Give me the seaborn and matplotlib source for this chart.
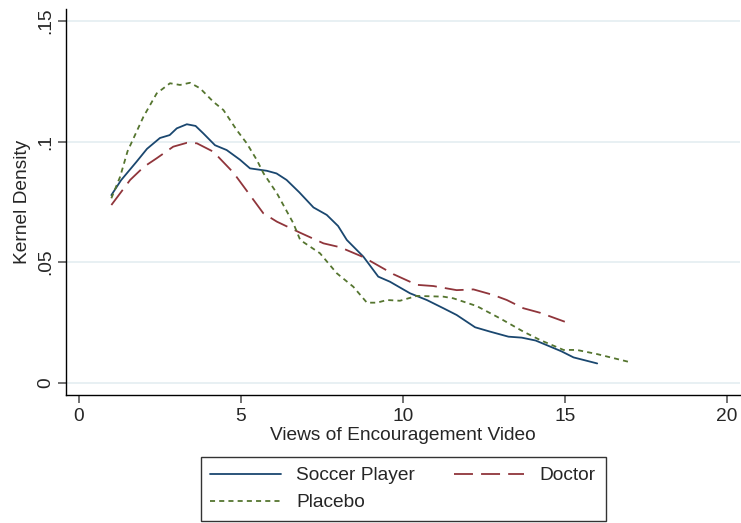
import pandas as pd
import numpy as np
import matplotlib
matplotlib.use("Agg")
import matplotlib.pyplot as plt
import seaborn as sns

# values (kernel density curves)
soccer_x = [1.0, 1.3, 1.78, 2.1, 2.5, 2.8, 3.02, 3.33, 3.6, 3.84, 4.2, 4.56, 4.97, 5.28,
            5.8, 6.1, 6.41, 6.8, 7.24, 7.65, 8.0, 8.27, 8.78, 9.24, 9.6, 10.22, 10.74,
            11.25, 11.66, 12.23, 12.69, 13.26, 13.67, 14.1, 14.44, 14.9, 15.27, 16.0]
soccer_y = [0.0778, 0.084, 0.0917, 0.097, 0.1015, 0.1027, 0.1055, 0.1072, 0.1065, 0.1034,
            0.0985, 0.0965, 0.0925, 0.0889, 0.0879, 0.0868, 0.0841, 0.079, 0.0727, 0.0696,
            0.065, 0.0592, 0.0523, 0.044, 0.0419, 0.0371, 0.0343, 0.0309, 0.0281, 0.0230,
            0.0212, 0.0191, 0.0187, 0.0175, 0.0156, 0.013, 0.0105, 0.0080]

doctor_x = [1.0, 1.58, 2.0, 2.4, 2.91, 3.33, 3.64, 4.15, 4.77, 5.28, 5.69, 6.11, 6.83,
            7.55, 8.06, 8.78, 9.71, 10.43, 10.94, 11.66, 12.18, 12.79, 13.21, 13.72,
            14.24, 15.0]
doctor_y = [0.0737, 0.0841, 0.0895, 0.0931, 0.0979, 0.0995, 0.0993, 0.0958, 0.0871,
            0.0778, 0.0703, 0.0668, 0.0622, 0.0578, 0.0562, 0.0521, 0.045, 0.0406,
            0.0401, 0.0384, 0.0387, 0.0364, 0.0343, 0.0309, 0.029, 0.0253]

placebo_x = [1.0, 1.27, 1.5, 1.99, 2.4, 2.81, 3.12, 3.43, 3.74, 4.15, 4.46, 4.87, 5.18,
             5.49, 5.7, 6.11, 6.62, 6.83, 7.44, 7.96, 8.47, 8.89, 9.2, 9.51, 9.91, 10.43,
             11.25, 11.56, 12.28, 13.0, 13.72, 14.24, 14.96, 15.37, 15.99, 17.02]
placebo_y = [0.0765, 0.0854, 0.096, 0.1103, 0.120, 0.1242, 0.1235, 0.1244, 0.1221,
             0.1165, 0.1131, 0.1048, 0.0993, 0.0924, 0.0868, 0.0786, 0.0661, 0.0592,
             0.0537, 0.0454, 0.0398, 0.0332, 0.0332, 0.0343, 0.034, 0.036, 0.0357,
             0.035, 0.0318, 0.0267, 0.0212, 0.0177, 0.0136, 0.0136, 0.0119, 0.0085]

groups = ["Soccer Player", "Doctor", "Placebo"]
x_ticks = [0, 5, 10, 15, 20]
y_ticks = [0, 0.05, 0.1, 0.15]
y_tick_labels = ["0", ".05", ".1", ".15"]

df = pd.concat([
    pd.DataFrame({"views": soccer_x, "density": soccer_y, "group": groups[0]}),
    pd.DataFrame({"views": doctor_x, "density": doctor_y, "group": groups[1]}),
    pd.DataFrame({"views": placebo_x, "density": placebo_y, "group": groups[2]}),
])

sns.set_style("white")
plt.rcParams["font.family"] = ["Liberation Sans", "DejaVu Sans"]

colors = {"Soccer Player": "#1a476f", "Doctor": "#90353b", "Placebo": "#55752f"}
dash_map = {"Soccer Player": "", "Doctor": (10.5, 4.5), "Placebo": (2.8, 2.3)}

fig = plt.figure(figsize=(7.41, 5.23), dpi=100)
ax = fig.add_axes([0.0897, 0.2447, 0.909, 0.7381])

# gridlines first so curves sit on top
for t in y_ticks:
    ax.axhline(t, color="#e8f0f3", lw=1.4, zorder=0)

sns.lineplot(data=df, x="views", y="density", hue="group", style="group",
             hue_order=groups, style_order=groups, palette=colors, dashes=dash_map,
             lw=1.3, sort=False, estimator=None, ax=ax)

ax.set_xlim(-0.386, 20.41)
ax.set_ylim(-0.0051, 0.155)
ax.set_xticks(x_ticks)
ax.set_xticklabels([str(t) for t in x_ticks])
ax.set_yticks(y_ticks)
ax.set_yticklabels(y_tick_labels, rotation=90, va="center")
ax.tick_params(axis="both", direction="out", length=6, width=1.3, color="#666666",
               labelsize=13.8, pad=3, bottom=True, left=True)
ax.set_xlabel("Views of Encouragement Video", fontsize=13.8, labelpad=2)
ax.set_ylabel("Kernel Density", fontsize=13.8, labelpad=4)

for side in ["top", "right"]:
    ax.spines[side].set_visible(False)
for side in ["left", "bottom"]:
    ax.spines[side].set_color("black")
    ax.spines[side].set_linewidth(1.0)

handles, labels = ax.get_legend_handles_labels()
ax.get_legend().remove()
order = [labels.index("Soccer Player"), labels.index("Placebo"), labels.index("Doctor")]
leg = fig.legend([handles[i] for i in order], [labels[i] for i in order],
                 loc="center", bbox_to_anchor=(403 / 741, 1 - 489 / 523), ncol=2,
                 frameon=True, fancybox=False, edgecolor="black", fontsize=13.8,
                 handlelength=3.7, columnspacing=2.0, labelspacing=0.5,
                 borderpad=0.5, handletextpad=0.8)
leg.get_frame().set_linewidth(1.0)

fig.savefig("out.png", dpi=100, facecolor="white")
